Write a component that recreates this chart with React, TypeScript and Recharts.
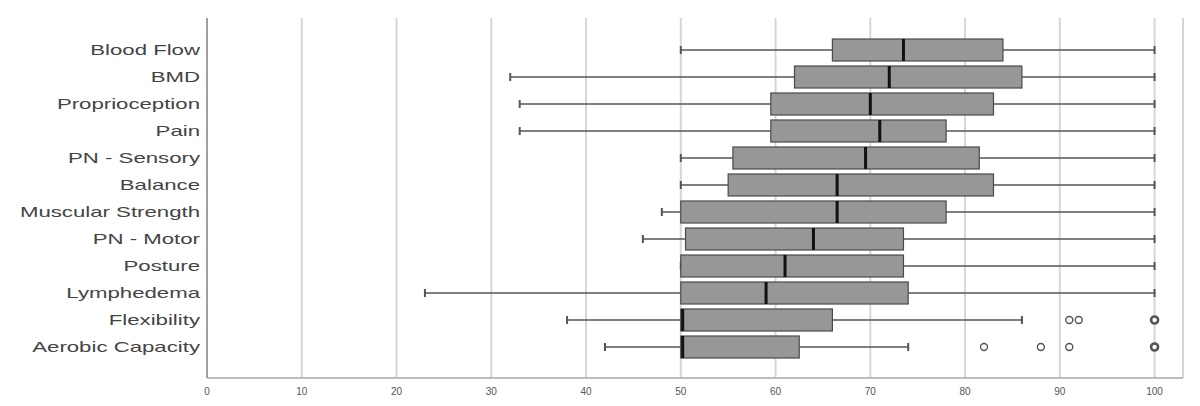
import { ComposedChart, Bar, XAxis, YAxis, CartesianGrid } from 'recharts';

// top row first
const categories = [
  'Blood Flow', 'BMD', 'Proprioception', 'Pain', 'PN - Sensory', 'Balance',
  'Muscular Strength', 'PN - Motor', 'Posture', 'Lymphedema', 'Flexibility', 'Aerobic Capacity',
];
const mins = [50, 32, 33, 33, 50, 50, 48, 46, 50, 23, 38, 42];
const q1s = [66, 62, 59.5, 59.5, 55.5, 55, 50, 50.5, 50, 50, 50, 50];
const medians = [73.5, 72, 70, 71, 69.5, 66.5, 66.5, 64, 61, 59, 50.2, 50.2];
const q3s = [84, 86, 83, 78, 81.5, 83, 78, 73.5, 73.5, 74, 66, 62.5];
const maxs = [100, 100, 100, 100, 100, 100, 100, 100, 100, 100, 86, 74];
const outliers: number[][] = [[], [], [], [], [], [], [], [], [], [], [91, 92, 100], [82, 88, 91, 100]];
const xTicks = [0, 10, 20, 30, 40, 50, 60, 70, 80, 90, 100];

const data = categories.map((name, i) => ({
  name,
  min: mins[i],
  q1: q1s[i],
  median: medians[i],
  q3: q3s[i],
  max: maxs[i],
  outliers: outliers[i],
}));

const LINE = '#555555';

function BoxShape(props: any) {
  const { x, y, width, height, payload } = props;
  const d = payload;
  // bar spans min..max, so other values map linearly inside it
  const px = (v: number) => x + ((v - d.min) / (d.max - d.min)) * width;
  const cy = y + height / 2;
  const capH = 8;
  return (
    <g>
      <line x1={px(d.min)} x2={px(d.q1)} y1={cy} y2={cy} stroke={LINE} strokeWidth={1.5} />
      <line x1={px(d.q3)} x2={px(d.max)} y1={cy} y2={cy} stroke={LINE} strokeWidth={1.5} />
      <line x1={px(d.min)} x2={px(d.min)} y1={cy - capH / 2} y2={cy + capH / 2} stroke={LINE} strokeWidth={2} />
      <line x1={px(d.max)} x2={px(d.max)} y1={cy - capH / 2} y2={cy + capH / 2} stroke={LINE} strokeWidth={2} />
      <rect
        x={px(d.q1)}
        y={y}
        width={px(d.q3) - px(d.q1)}
        height={height}
        fill="#979797"
        stroke="#4a4a4a"
        strokeWidth={1.2}
      />
      <line x1={px(d.median)} x2={px(d.median)} y1={y} y2={y + height} stroke="#111" strokeWidth={3} />
      {d.outliers.map((v: number, k: number) => (
        <circle
          key={k}
          cx={px(v)}
          cy={cy}
          r={3.5}
          fill="#fff"
          stroke={LINE}
          strokeWidth={v === 100 ? 2.6 : 1.4}
        />
      ))}
    </g>
  );
}

function CategoryTick(props: any) {
  const { x, y, payload } = props;
  return (
    <text
      transform={`translate(${x},${y}) scale(1.48,1)`}
      textAnchor="end"
      dy="0.36em"
      fontSize={15}
      fontFamily="'Liberation Sans', Arial, sans-serif"
      fill="#444"
    >
      {payload.value}
    </text>
  );
}

export default function App() {
  return (
    <div style={{ position: 'absolute', left: 0, top: 0, background: '#fff' }}>
      <ComposedChart
        width={1200}
        height={406}
        data={data}
        layout="vertical"
        margin={{ top: 18, right: 17, left: 0, bottom: 6 }}
      >
        <CartesianGrid horizontal={false} stroke="#d6d6d6" strokeWidth={2} />
        <XAxis
          type="number"
          domain={[0, 103]}
          ticks={xTicks}
          tickLine={false}
          axisLine={{ stroke: '#a8a8a8', strokeWidth: 1.5 }}
          tick={{ fontSize: 10, fill: '#555', fontFamily: "'Liberation Sans', Arial, sans-serif" }}
          tickMargin={4}
          height={22}
        />
        <YAxis
          type="category"
          dataKey="name"
          width={207}
          tickLine={false}
          tickSize={0}
          tickMargin={7}
          interval={0}
          padding={{ top: 18, bottom: 18 }}
          axisLine={{ stroke: '#a0a0a0', strokeWidth: 2 }}
          tick={<CategoryTick />}
        />
        <Bar
          dataKey={(d: any) => [d.min, d.max]}
          barSize={22}
          shape={<BoxShape />}
          isAnimationActive={false}
        />
      </ComposedChart>
    </div>
  );
}
